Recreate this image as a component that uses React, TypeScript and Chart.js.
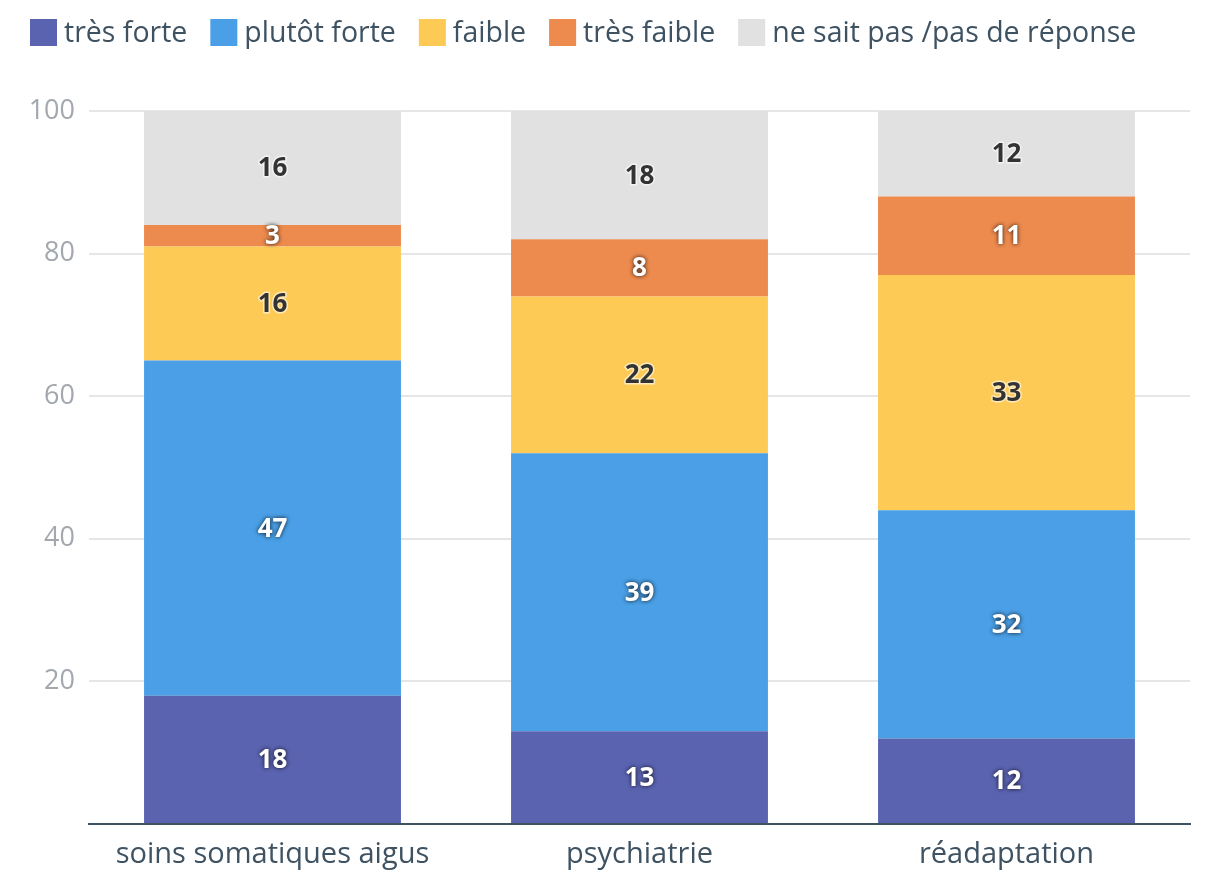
import React, { useEffect, useRef } from "react";
import { Chart, registerables } from "chart.js";

Chart.register(...registerables);

const categories = ["soins somatiques aigus", "psychiatrie", "réadaptation"];
const seriesNames = ["très forte", "plutôt forte", "faible", "très faible", "ne sait pas /pas de réponse"];
const tresForte = [18, 13, 12];
const plutotForte = [47, 39, 32];
const faible = [16, 22, 33];
const tresFaible = [3, 8, 11];
const nsp = [16, 18, 12];
const yTicks = [20, 40, 60, 80, 100];

const colors = ["#5a63b0", "#4a9fe6", "#fdca55", "#ed8a4d", "#e1e1e1"];
const darkLabel = [false, false, true, false, true];
const FONT = "'Open Sans', 'Noto Sans', sans-serif";

const legendPlugin = {
  id: "customLegend",
  afterDraw(chart: any) {
    const ctx = chart.ctx;
    ctx.save();
    ctx.font = `28.5px ${FONT}`;
    ctx.textBaseline = "middle";
    ctx.textAlign = "left";
    let x = 30;
    const y = 19;
    const box = 27;
    chart.data.datasets.forEach((ds: any) => {
      ctx.fillStyle = ds.backgroundColor;
      ctx.fillRect(x, y, box, box);
      x += box + 7;
      ctx.fillStyle = "#3e5262";
      ctx.fillText(ds.label, x, y + box / 2 + 1);
      x += ctx.measureText(ds.label).width + 23;
    });
    ctx.restore();
  },
};

const labelPlugin = {
  id: "barLabels",
  afterDatasetsDraw(chart: any) {
    const ctx = chart.ctx;
    ctx.save();
    ctx.font = `bold 26px ${FONT}`;
    ctx.textAlign = "center";
    ctx.textBaseline = "middle";
    chart.data.datasets.forEach((ds: any, di: number) => {
      const meta = chart.getDatasetMeta(di);
      meta.data.forEach((el: any, i: number) => {
        const v = ds.data[i];
        const cx = el.x;
        const cy = (el.y + el.base) / 2 + 1;
        const txt = String(v);
        if (darkLabel[di]) {
          ctx.lineWidth = 3;
          ctx.strokeStyle = "rgba(255,255,255,0.6)";
          ctx.lineJoin = "round";
          ctx.strokeText(txt, cx, cy);
          ctx.fillStyle = "#333333";
          ctx.fillText(txt, cx, cy);
        } else {
          ctx.shadowColor = "rgba(0,0,0,0.85)";
          ctx.shadowBlur = 4;
          ctx.fillStyle = "#ffffff";
          ctx.fillText(txt, cx, cy);
          ctx.shadowBlur = 0;
          ctx.shadowColor = "transparent";
        }
      });
    });
    ctx.restore();
  },
};

export default function App() {
  const ref = useRef<HTMLCanvasElement | null>(null);
  useEffect(() => {
    if (!ref.current) return;
    const seriesData = [tresForte, plutotForte, faible, tresFaible, nsp];
    const chart = new Chart(ref.current, {
      type: "bar",
      data: {
        labels: categories,
        datasets: seriesData.map((d, i) => ({
          label: seriesNames[i],
          data: d,
          backgroundColor: colors[i],
          borderWidth: 0,
          barPercentage: 1,
          categoryPercentage: 0.7,
        })),
      },
      options: {
        animation: false,
        responsive: false,
        maintainAspectRatio: false,
        layout: { padding: { top: 111, right: 30, left: 0, bottom: 0 } },
        plugins: {
          legend: { display: false },
          tooltip: { enabled: false },
        },
        scales: {
          x: {
            stacked: true,
            grid: { display: false },
            border: { color: "#3f5260", width: 2 },
            ticks: { color: "#3e5262", font: { family: FONT, size: 29 }, padding: 5 },
            afterFit(scale: any) { scale.height = 64; },
          },
          y: {
            stacked: true,
            min: 0,
            max: 100,
            afterBuildTicks(scale: any) { scale.ticks = [0, ...yTicks].map((v) => ({ value: v })); },
            grid: { color: "#e6e6e6", lineWidth: 2, drawTicks: false },
            border: { display: false },
            ticks: {
              color: "#a2a8ae",
              font: { family: FONT, size: 27 },
              padding: 14,
              callback: (v: any) => (v === 0 ? "" : String(v)),
            },
            afterFit(scale: any) { scale.width = 89; },
          },
        },
      },
      plugins: [legendPlugin, labelPlugin],
    });
    return () => chart.destroy();
  }, []);
  return (
    <div style={{ position: "fixed", left: 0, top: 0, width: 1220, height: 888, background: "#fff" }}>
      <canvas ref={ref} width={1220} height={888} style={{ width: 1220, height: 888 }} />
    </div>
  );
}
